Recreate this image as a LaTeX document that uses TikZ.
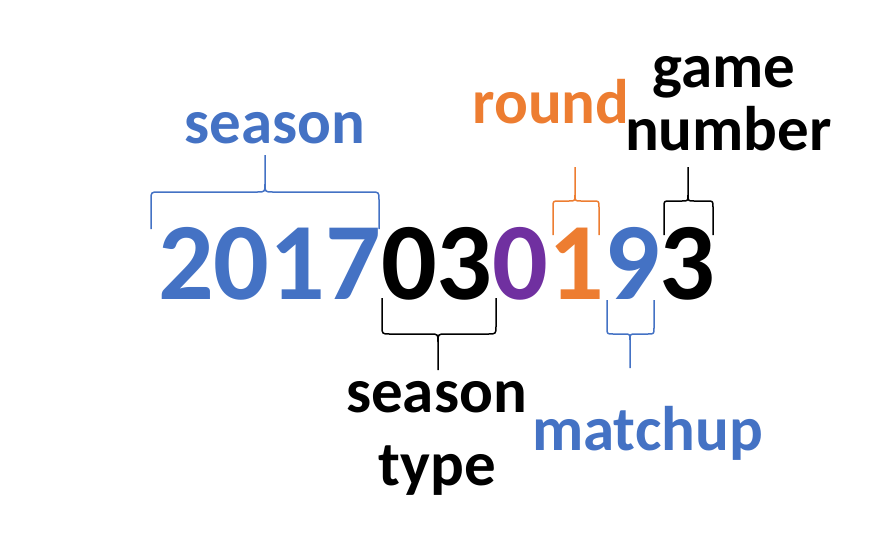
\documentclass[tikz,border=0pt]{standalone}
\usepackage{fontspec}
\setmainfont{Carlito}
\definecolor{cblue}{HTML}{4472C4}
\definecolor{corange}{HTML}{ED7D31}
\definecolor{cpurple}{HTML}{7030A0}
\newcommand\mybrace[8]{%
  \draw[#8] (#1,#4) -- (#1,{#5+#7}) .. controls (#1,#5) .. ({#1+abs(#7)},#5) -- ({#3-abs(#7)},#5)
     .. controls (#3,#5) .. (#3,{#5-#7}) -- (#3,#6);
  \draw[#8] (#2,#4) -- (#2,{#5+#7}) .. controls (#2,#5) .. ({#2-abs(#7)},#5) -- ({#3+abs(#7)},#5)
     .. controls (#3,#5) .. (#3,{#5-#7});
}
\begin{document}
\begin{tikzpicture}[x=1pt,y=-1pt,
  dig/.style={font=\fontsize{110}{110}\selectfont\bfseries, inner sep=0pt, outer sep=0pt, anchor=base west},
  lab/.style={font=\fontsize{63}{63}\selectfont\bfseries, inner sep=0pt, anchor=base},
  br/.style={line width=1.5pt, line join=round}]
\useasboundingbox (0,0) rectangle (876,544);
% digits
\node[dig, text=cblue] (d0) at (158,299) {2};
\node[dig, text=cblue] (d1) at (d0.base east) {0};
\node[dig, text=cblue] (d2) at (d1.base east) {1};
\node[dig, text=cblue] (d3) at (d2.base east) {7};
\node[dig, text=black] (d4) at (d3.base east) {0};
\node[dig, text=black] (d5) at (d4.base east) {3};
\node[dig, text=cpurple] (d6) at (d5.base east) {0};
\node[dig, text=corange] (d7) at (d6.base east) {1};
\node[dig, text=cblue] (d8) at (d7.base east) {9};
\node[dig, text=black] (d9) at (d8.base east) {3};
% labels
\node[lab, text=cblue] (lseason) at (275,143) {season};
\node[lab, text=corange] (lround) at (551,123) {round};
\node[lab, text=black] (lgame) at (724,87) {game};
\node[lab, text=black] (lnumber) at (728.5,150) {number};
\node[lab, text=black] (lstype) at (436.5,412) {season};
\node[lab, text=black] (ltype) at (437.5,485) {type};
\node[lab, text=cblue] (lmatchup) at (647.5,450) {matchup};
% braces
\mybrace{151}{379}{265}{229}{192}{155}{8}{br, draw=cblue}
\mybrace{553}{599}{575}{235}{201}{167}{6}{br, draw=corange}
\mybrace{664}{713}{688}{235}{201}{167}{6}{br, draw=black}
\mybrace{382}{496}{438}{298}{334}{370}{-8}{br, draw=black}
\mybrace{607}{654}{630}{300}{334}{368}{-6}{br, draw=cblue}
\end{tikzpicture}
\end{document}
